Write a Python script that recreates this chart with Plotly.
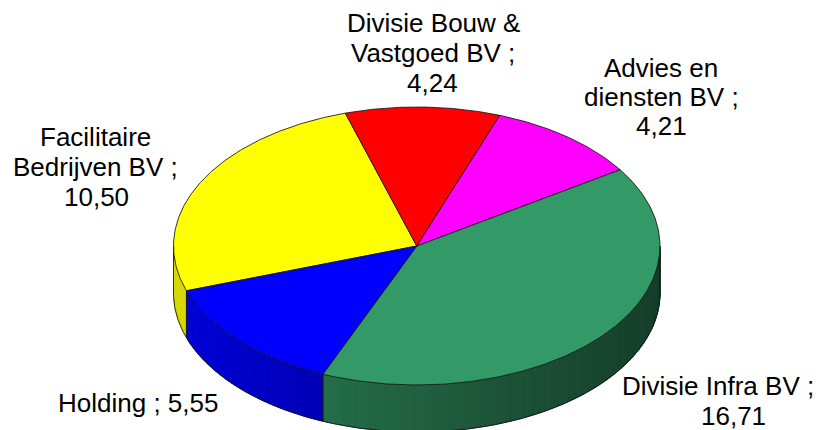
import numpy as np
import plotly.graph_objects as go

# ---------------- data ----------------
categories = ["Facilitaire Bedrijven BV", "Divisie Bouw & Vastgoed BV",
              "Advies en diensten BV", "Divisie Infra BV", "Holding"]
values = [10.50, 4.24, 4.21, 16.71, 5.55]
slice_colors = ["#FFFF00", "#FF0000", "#FF00FF", "#339966", "#0000FF"]

# words per wrapped label line
label_wrap = [[1, 3, 1], [3, 3, 1], [2, 3, 1], [4, 1], [3]]
# (center x, baseline y) of each label line in pixels
label_pos = [
    [(95, 146), (95, 176), (96, 206)],
    [(433, 32), (433, 62), (432, 92)],
    [(661, 77), (661, 106), (661, 135)],
    [(718, 395), (733, 425)],
    [(138, 412)],
]

# ---------------- geometry / style ----------------
W, H = 821, 430
CX, CY, RX, RY, DEPTH = 416.75, 246.0, 243.25, 139.0, 47.0
START = 251.2  # degrees, clockwise from top
EDGE = "rgba(20,20,20,0.85)"
FONT = dict(family="Liberation Sans, Arial, sans-serif", size=26, color="black")


def pt(theta, dy=0.0):
    t = np.radians(theta)
    return CX + RX * np.sin(t), CY - RY * np.cos(t) + dy


def hex_rgb(h):
    h = h.lstrip("#")
    return [int(h[i:i + 2], 16) for i in (0, 2, 4)]


def shade(hexcol, x):
    f = 0.85 - 0.45 * (x - (CX - RX)) / (2 * RX)
    r, g, b = [int(round(c * f)) for c in hex_rgb(hexcol)]
    return f"rgb({r},{g},{b})"


total = float(sum(values))
spans = [v / total * 360.0 for v in values]
bounds = []
a = START
for s in spans:
    bounds.append((a, a + s))
    a += s

fig = go.Figure()

# ---------------- side walls (front half only) ----------------
side_edges = []
for (a0, a1), col in zip(bounds, slice_colors):
    for lo, hi in ((90.0, 270.0), (450.0, 630.0)):
        s0, s1 = max(a0, lo), min(a1, hi)
        if s1 <= s0:
            continue
        n = max(2, int(np.ceil((s1 - s0) / 1.0)))
        ts = np.linspace(s0, s1, n + 1)
        for t0, t1 in zip(ts[:-1], ts[1:]):
            x0, y0 = pt(t0)
            x1, y1 = pt(t1)
            xb1, yb1 = pt(t1, DEPTH)
            xb0, yb0 = pt(t0, DEPTH)
            c = shade(col, (x0 + x1) / 2)
            fig.add_trace(go.Scatter(
                x=[x0, x1, xb1, xb0, x0], y=[y0, y1, yb1, yb0, y0],
                mode="lines", fill="toself", fillcolor=c,
                line=dict(color=c, width=1), hoverinfo="skip"))
        side_edges.extend([s0, s1])

# side outlines: bottom arc and vertical edges
tb = np.linspace(90, 270, 361)
bx, by = pt(tb, DEPTH)
fig.add_trace(go.Scatter(x=bx, y=by, mode="lines",
                         line=dict(color=EDGE, width=1), hoverinfo="skip"))
for t in sorted(set(round(e, 6) for e in side_edges)):
    xt, yt = pt(t)
    xb, yb = pt(t, DEPTH)
    fig.add_trace(go.Scatter(x=[xt, xb], y=[yt, yb], mode="lines",
                             line=dict(color=EDGE, width=1), hoverinfo="skip"))

# ---------------- top faces ----------------
for (a0, a1), col in zip(bounds, slice_colors):
    n = max(4, int(np.ceil((a1 - a0) / 0.5)))
    ts = np.linspace(a0, a1, n + 1)
    ax, ay = pt(ts)
    xs = np.concatenate([[CX], ax, [CX]])
    ys = np.concatenate([[CY], ay, [CY]])
    fig.add_trace(go.Scatter(x=xs, y=ys, mode="lines", fill="toself",
                             fillcolor=col, line=dict(color=EDGE, width=1),
                             hoverinfo="skip"))

# ---------------- labels ----------------
annotations = []
for name, val, wrap, pos in zip(categories, values, label_wrap, label_pos):
    words = f"{name} ; {val:.2f}".replace(".", ",").split(" ")
    lines, k = [], 0
    for cnt in wrap:
        lines.append(" ".join(words[k:k + cnt]))
        k += cnt
    for text, (lx, ly) in zip(lines, pos):
        annotations.append(dict(x=lx, y=ly - 9, xref="x", yref="y",
                                text=text, showarrow=False, font=FONT,
                                xanchor="center", yanchor="middle",
                                borderpad=0))

fig.update_layout(
    width=W, height=H, margin=dict(l=0, r=0, t=0, b=0),
    paper_bgcolor="white", plot_bgcolor="white", showlegend=False,
    xaxis=dict(range=[0, W], visible=False, fixedrange=True),
    yaxis=dict(range=[H, 0], visible=False, fixedrange=True),
    annotations=annotations,
)

fig.write_html("out.html")
